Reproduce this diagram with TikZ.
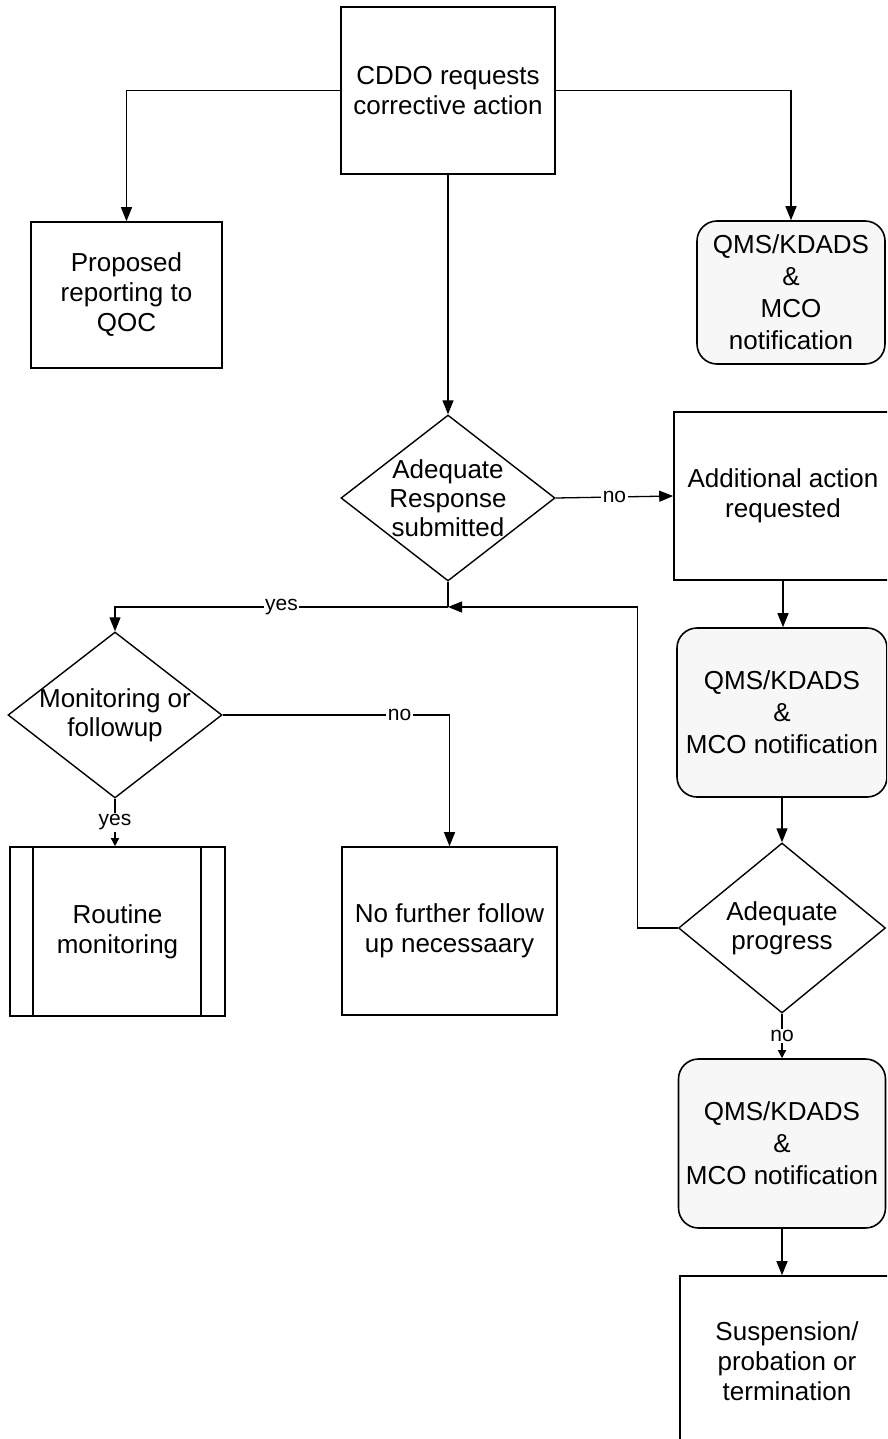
\documentclass[tikz,border=0pt]{standalone}
\usepackage{fontspec}
\setmainfont{Liberation Sans}
\usetikzlibrary{shapes.geometric,arrows.meta}
\begin{document}
\begin{tikzpicture}[x=1pt,y=-1pt,
  box/.style={draw, line width=1.6pt, inner sep=0pt, align=center,
    font=\fontsize{26}{30}\selectfont},
  notebox/.style={box, rounded corners=20pt, fill=black!3,
    font=\fontsize{26}{32}\selectfont},
  decision/.style={draw, diamond, line width=1.4pt, inner sep=0pt},
  dtext/.style={align=center, inner sep=0pt, font=\fontsize{26}{29}\selectfont},
  conn/.style={line width=1.3pt, -{Triangle[length=14pt,width=11pt]}},
  plain/.style={line width=1.3pt},
  smallarrow/.style={line width=1.3pt, -{Triangle[length=8pt,width=8pt]}},
  lbl/.style={fill=white, inner sep=1.5pt, font=\fontsize{21}{23}\selectfont}
]
\useasboundingbox (0,0) rectangle (887,1439);
\clip (0,0) rectangle (887,1439);

% process boxes
\node[box, minimum width=214pt, minimum height=167pt] (cddo) at (448,90.5)
  {CDDO requests\\corrective action};
\node[box, minimum width=191pt, minimum height=146pt] (prop) at (126.5,295)
  {Proposed\\reporting to\\QOC};
\node[notebox, minimum width=188pt, minimum height=143pt] (qms1) at (791,292.5)
  {QMS/KDADS\\\&\\MCO\\notification};

% first decision
\node[decision, minimum width=214pt, minimum height=166pt] (d1) at (448,498) {};
\node[dtext] (d1t) at (d1) {Adequate\\Response\\submitted};

\node[box, minimum width=218pt, minimum height=168pt] (add) at (783,496)
  {Additional action\\requested};
\node[notebox, minimum width=210pt, minimum height=169pt] (qms2) at (782,712.5)
  {QMS/KDADS\\\&\\MCO notification};

% progress decision
\node[decision, minimum width=207pt, minimum height=170pt] (d3) at (782,928) {};
\node[dtext] (d3t) at (d3) {Adequate\\progress};

% monitoring decision
\node[decision, minimum width=214pt, minimum height=166pt] (d2) at (115,715) {};
\node[dtext] (d2t) at (d2) {Monitoring or\\followup};

% outcomes
\node[box, minimum width=215pt, minimum height=169pt] (routine) at (117.5,931.5)
  {Routine\\monitoring};
\draw[line width=1.6pt] ([xshift=24pt]routine.north west) -- ([xshift=24pt]routine.south west);
\draw[line width=1.6pt] ([xshift=-25pt]routine.north east) -- ([xshift=-25pt]routine.south east);
\node[box, minimum width=215pt, minimum height=168pt] (nofurther) at (449.5,931)
  {No further follow\\up necessaary};
\node[notebox, minimum width=207pt, minimum height=169pt] (qms3) at (782,1143.5)
  {QMS/KDADS\\\&\\MCO notification};
\node[box, minimum width=214pt, minimum height=170pt] (susp) at (787,1361)
  {Suspension/\\probation or\\termination};

% connectors
\draw[conn] (cddo.west) -| (prop.north);
\draw[conn] (cddo.east) -| (qms1.north);
\draw[conn] (cddo.south) -- (d1.north);
\draw[conn] (d1.east) -- node[lbl]{no} (add.west);
\draw[conn] (add.south) -- (add.south |- qms2.north);
\draw[conn] (qms2.south) -- (qms2.south |- d3.north);

\coordinate (j1) at (448,607);
\draw[plain] (d1.south) -- (j1);
\draw[conn] (j1) -| node[lbl, pos=0.25]{yes} (d2.north);
\draw[conn] (d3.west) -- ++(-40,0) |- (j1);

\draw[conn] (d2.east) -| node[lbl, pos=0.39]{no} (nofurther.north);
\draw[smallarrow] (d2.south) -- node[lbl]{yes} (d2.south |- routine.north);
\draw[smallarrow] (d3.south) -- node[lbl]{no} (d3.south |- qms3.north);
\draw[conn] (qms3.south) -- (qms3.south |- susp.north);
\end{tikzpicture}
\end{document}
